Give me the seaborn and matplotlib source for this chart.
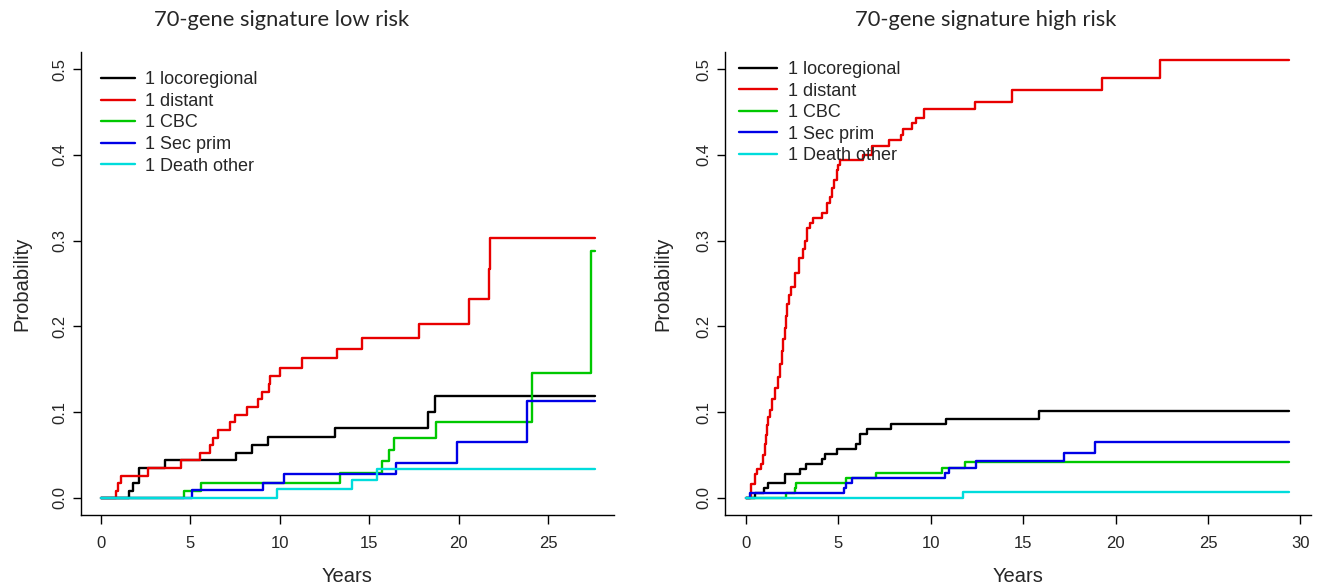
import seaborn as sns
import matplotlib.pyplot as plt
import pandas as pd

# --------------------
# Data (cumulative incidence, step functions)
# --------------------
events = ["1 locoregional", "1 distant", "1 CBC", "1 Sec prim", "1 Death other"]
colors = ["#000000", "#E80000", "#00C800", "#0000E6", "#00DCDC"]

# low risk panel
low_end = 27.65
low_loco_t = [0, 1.54, 1.81, 2.14, 3.58, 7.55, 8.42, 9.34, 13.10, 18.30, 18.66]
low_loco_p = [0, 0.0085, 0.0173, 0.0348, 0.0437, 0.0527, 0.0615, 0.0706, 0.0815, 0.1001, 0.1192]
low_dist_t = [0, 0.85, 0.94, 1.10, 2.62, 4.45, 5.53, 6.08, 6.28, 6.53, 7.19, 7.49, 8.15,
              8.78, 8.99, 9.38, 9.47, 10.01, 11.23, 13.21, 14.62, 17.79, 20.57, 21.68, 21.78]
low_dist_p = [0, 0.0083, 0.0169, 0.0258, 0.0348, 0.0437, 0.0523, 0.0612, 0.0698, 0.0791, 0.0880,
              0.0970, 0.1060, 0.1150, 0.1238, 0.1332, 0.1425, 0.1519, 0.1628, 0.1740, 0.1862,
              0.2025, 0.2317, 0.2670, 0.3028]
low_cbc_t = [0, 4.66, 5.57, 13.34, 15.70, 16.10, 16.36, 18.72, 24.13, 27.39]
low_cbc_p = [0, 0.0085, 0.0173, 0.0289, 0.0426, 0.0558, 0.0694, 0.0885, 0.1457, 0.2884]
low_sec_t = [0, 5.08, 9.07, 10.23, 16.47, 19.93, 23.80]
low_sec_p = [0, 0.0089, 0.0175, 0.0274, 0.0410, 0.0648, 0.1134]
low_death_t = [0, 9.84, 14.03, 15.45]
low_death_p = [0, 0.0098, 0.0211, 0.0340]

# high risk panel
high_end = 29.4
high_loco_t = [0, 0.48, 1.00, 1.20, 2.12, 2.93, 3.27, 4.11, 4.30, 4.94, 5.98, 6.19, 6.55,
               7.86, 10.84, 15.88]
high_loco_p = [0, 0.0052, 0.0111, 0.0169, 0.0281, 0.0340, 0.0398, 0.0457, 0.0511, 0.0566,
               0.0624, 0.0741, 0.0800, 0.0858, 0.0920, 0.1009]
high_dist_t = [0, 0.25, 0.48, 0.58, 0.82, 0.93, 1.04, 1.10, 1.16, 1.22, 1.28, 1.39, 1.55, 1.73,
               1.85, 1.96, 2.03, 2.10, 2.17, 2.24, 2.32, 2.42, 2.65, 2.85, 3.07, 3.20, 3.33,
               3.45, 3.65, 4.10, 4.37, 4.55, 4.64, 4.77, 4.91, 5.00, 5.09, 6.35, 6.80, 7.76,
               8.37, 8.52, 8.97, 9.20, 9.63, 12.40, 14.40, 19.26, 22.38]
high_dist_p = [0, 0.0166, 0.0280, 0.0340, 0.0400, 0.0505, 0.0628, 0.0730, 0.0845, 0.0940,
               0.1020, 0.1150, 0.1280, 0.1410, 0.1560, 0.1717, 0.1850, 0.1980, 0.2120, 0.2260,
               0.2370, 0.2464, 0.2620, 0.2795, 0.2900, 0.3000, 0.3150, 0.3204, 0.3263, 0.3320,
               0.3437, 0.3510, 0.3610, 0.3710, 0.3820, 0.3880, 0.3943, 0.4000, 0.4106, 0.4176,
               0.4235, 0.4301, 0.4370, 0.4430, 0.4538, 0.4612, 0.4752, 0.4900, 0.5110]
high_cbc_t = [0, 2.18, 2.64, 2.70, 5.42, 7.01, 10.60, 11.86]
high_cbc_p = [0, 0.0052, 0.0111, 0.0169, 0.0227, 0.0286, 0.0352, 0.0418]
high_sec_t = [0, 0.24, 5.30, 5.40, 5.75, 10.76, 10.96, 12.42, 17.20, 18.87]
high_sec_p = [0, 0.0052, 0.0111, 0.0169, 0.0227, 0.0286, 0.0352, 0.0426, 0.0527, 0.0655]
high_death_t = [0, 11.76]
high_death_p = [0, 0.0064]

low_curves = [(low_loco_t, low_loco_p), (low_dist_t, low_dist_p), (low_cbc_t, low_cbc_p),
              (low_sec_t, low_sec_p), (low_death_t, low_death_p)]
high_curves = [(high_loco_t, high_loco_p), (high_dist_t, high_dist_p), (high_cbc_t, high_cbc_p),
               (high_sec_t, high_sec_p), (high_death_t, high_death_p)]


def build_frame(curves, end):
    parts = []
    for label, (t, p) in zip(events, curves):
        parts.append(pd.DataFrame({"Years": list(t) + [end],
                                   "Probability": list(p) + [p[-1]],
                                   "Event": label}))
    return pd.concat(parts, ignore_index=True)


sns.set_style("ticks")
plt.rcParams["font.family"] = ["Liberation Sans", "DejaVu Sans"]

fig = plt.figure(figsize=(13.21, 5.85), dpi=100)
ax1 = fig.add_axes([81 / 1321, 1 - 515 / 585, 533 / 1321, 463 / 585])
ax2 = fig.add_axes([724.5 / 1321, 1 - 515 / 585, 586.5 / 1321, 463 / 585])

panels = [
    (ax1, build_frame(low_curves, low_end), (-1.12, 28.69), [0, 5, 10, 15, 20, 25],
     (0.0375, 0.958), 1.91, 0.53, -0.0938),
    (ax2, build_frame(high_curves, high_end), (-1.16, 30.57), [0, 5, 10, 15, 20, 25, 30],
     (0.0247, 0.980), 2.1, 0.64, -0.089),
]

for ax, df, xlim, xticks, leg_xy, hlen, tpad, ylab_x in panels:
    sns.lineplot(data=df, x="Years", y="Probability", hue="Event", hue_order=events,
                 palette=colors, drawstyle="steps-post", estimator=None, sort=False,
                 lw=1.7, legend=False, ax=ax)
    ax.set_xlim(*xlim)
    ax.set_ylim(-0.02, 0.52)
    ax.set_xticks(xticks)
    ax.set_yticks([0.0, 0.1, 0.2, 0.3, 0.4, 0.5])
    ax.set_yticklabels(["0.0", "0.1", "0.2", "0.3", "0.4", "0.5"], rotation=90, va="center")
    ax.tick_params(axis="both", labelsize=12, width=1, color="black", direction="out")
    ax.tick_params(axis="x", pad=9, length=6.4)
    ax.tick_params(axis="y", pad=3.5, length=6)
    for side in ["left", "bottom"]:
        ax.spines[side].set_color("black")
        ax.spines[side].set_linewidth(1)
    sns.despine(ax=ax)
    ax.set_xlabel("Years", fontsize=14.5)
    ax.set_ylabel("Probability", fontsize=14.5)
    ax.xaxis.set_label_coords(0.5, -0.112)
    ax.yaxis.set_label_coords(ylab_x, 0.5)
    ax.legend(ax.get_lines(), events, loc="upper left", bbox_to_anchor=leg_xy,
              frameon=False, fontsize=13, handlelength=hlen, handletextpad=tpad,
              labelspacing=0.25, borderpad=0, borderaxespad=0)

fig.text(282 / 1321, 1 - 20.5 / 585, "70-gene signature low risk", family="Lato",
         fontsize=15.8, ha="center", va="center")
fig.text(986 / 1321, 1 - 20.5 / 585, "70-gene signature high risk", family="Lato",
         fontsize=15.8, ha="center", va="center")

fig.savefig("out.png", dpi=100)
